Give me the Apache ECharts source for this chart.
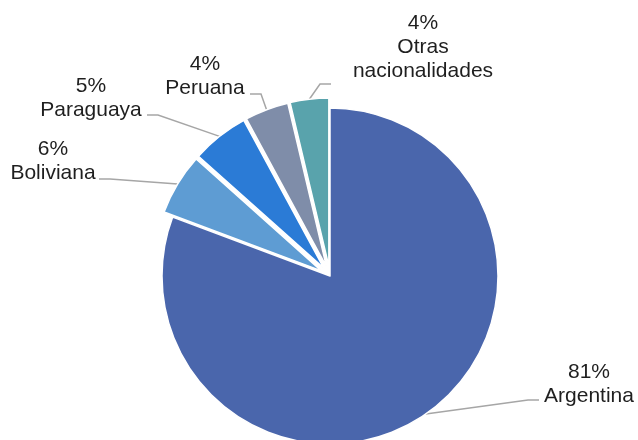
<!DOCTYPE html>
<html>
<head>
<meta charset="utf-8">
<script src="https://cdn.jsdelivr.net/npm/echarts@6/dist/echarts.min.js"></script>
<style>
html,body{margin:0;padding:0;background:#fff;}
#chart{width:638px;height:440px;}
</style>
</head>
<body>
<div id="chart"></div>
<script>
// Data (shares of total, %)
const categories = ['Argentina', 'Boliviana', 'Paraguaya', 'Peruana', 'Otras\nnacionalidades'];
const values = [80.7, 5.9, 5.5, 4.2, 3.7];
const exploded = [false, true, true, true, true];

const colors = ['#4A66AC', '#5E9CD3', '#2B7BD6', '#7F8DA9', '#59A3AC'];

const CENTER = [330, 276];
const RADIUS = 168;
const OFFSET = 10;

// label placement (text block centre) and leader-line end, per slice
const labelPlace = [
  {x: 589, y: 384, endX: 539, endY: 400, side: 1},
  {x: 53,  y: 161, endX: 99,  endY: 179, side: -1},
  {x: 91,  y: 98,  endX: 147, endY: 115, side: -1},
  {x: 205, y: 76,  endX: 250, endY: 94,  side: -1},
  {x: 423, y: 47,  endX: 331, endY: 84,  side: 1}
];

const pieData = categories.map((c, i) => ({name: c, value: values[i], selected: exploded[i]}));

const chart = echarts.init(document.getElementById('chart'), null, {renderer: 'canvas'});
const option = {
  animation: false,
  color: colors,
  series: [{
    type: 'pie',
    center: CENTER,
    radius: RADIUS,
    startAngle: 90,
    clockwise: true,
    selectedMode: 'multiple',
    selectedOffset: OFFSET,
    avoidLabelOverlap: false,
    itemStyle: {borderColor: '#fff', borderWidth: 1.5},
    emphasis: {disabled: true},
    label: {show: false},
    labelLine: {show: false},
    data: pieData
  }, {
    // same slices, transparent: carries the labels and leader lines
    type: 'pie',
    silent: true,
    center: CENTER,
    radius: RADIUS,
    startAngle: 90,
    clockwise: true,
    percentPrecision: 0,
    avoidLabelOverlap: false,
    itemStyle: {color: 'rgba(0,0,0,0)', borderWidth: 0},
    emphasis: {disabled: true},
    label: {
      show: true,
      formatter: '{d}%\n{b}',
      fontFamily: 'Liberation Sans, Arial, sans-serif',
      fontSize: 21,
      lineHeight: 24,
      color: '#1f1f1f',
      align: 'center'
    },
    labelLine: {
      show: true,
      length: 20,
      length2: 10,
      lineStyle: {color: '#A6A6A6', width: 1.5}
    },
    labelLayout: function (params) {
      const i = params.dataIndex;
      const p = labelPlace[i];
      const pts = params.labelLinePoints;
      let start = pts ? pts[0].slice() : [p.endX, p.endY];
      if (exploded[i]) {
        const dx = start[0] - CENTER[0], dy = start[1] - CENTER[1];
        const d = Math.sqrt(dx * dx + dy * dy) || 1;
        start = [start[0] + dx / d * OFFSET, start[1] + dy / d * OFFSET];
      }
      const elbow = [p.endX - p.side * 11, p.endY];
      return {
        x: p.x,
        y: p.y,
        align: 'center',
        verticalAlign: 'middle',
        labelLinePoints: [start, elbow, [p.endX, p.endY]]
      };
    },
    data: categories.map((c, i) => ({name: c, value: values[i]}))
  }]
};
chart.setOption(option);
</script>
</body>
</html>
